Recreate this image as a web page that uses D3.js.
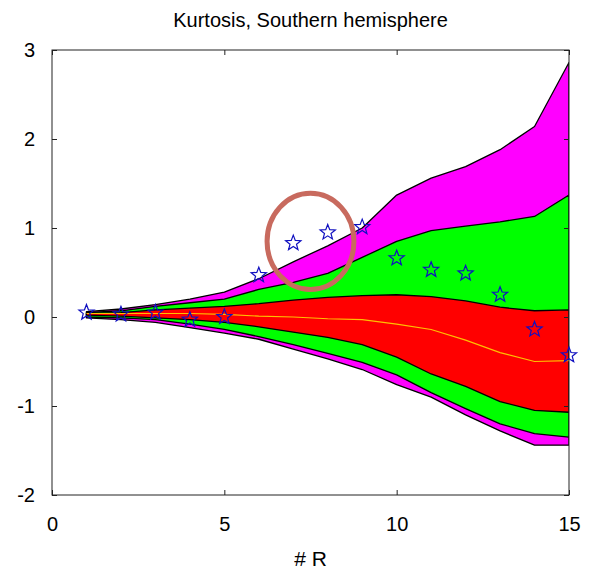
<!DOCTYPE html>
<html>
<head>
<meta charset="utf-8">
<script src="https://cdn.jsdelivr.net/npm/d3@7"></script>
<style>
  html, body { margin: 0; padding: 0; background: #fff; }
  svg { display: block; }
  text { font-family: "Liberation Sans", Arial, Helvetica, sans-serif; fill: #000; }
</style>
</head>
<body>
<svg id="chart" width="592" height="570"></svg>
<script>
// Number of R (x positions)
const rValues = [1, 2, 3, 4, 5, 6, 7, 8, 9, 10, 11, 12, 13, 14, 15];

// Outer envelope (magenta band)
const outerUpper = [0.06, 0.09, 0.14, 0.20, 0.28, 0.43, 0.62, 0.80, 1.00, 1.37, 1.56, 1.69, 1.88, 2.14, 2.86];
const outerLower = [-0.01, -0.03, -0.06, -0.12, -0.18, -0.25, -0.36, -0.47, -0.59, -0.76, -0.90, -1.10, -1.28, -1.44, -1.44];

// Middle envelope (green band)
const middleUpper = [0.05, 0.07, 0.12, 0.16, 0.20, 0.31, 0.39, 0.49, 0.67, 0.85, 0.97, 1.02, 1.07, 1.13, 1.37];
const middleLower = [0.00, -0.01, -0.03, -0.08, -0.14, -0.22, -0.31, -0.41, -0.51, -0.65, -0.85, -1.03, -1.20, -1.31, -1.35];

// Inner envelope (red band)
const innerUpper = [0.04, 0.05, 0.08, 0.10, 0.12, 0.15, 0.19, 0.22, 0.24, 0.25, 0.23, 0.18, 0.11, 0.07, 0.08];
const innerLower = [0.02, 0.01, -0.01, -0.03, -0.06, -0.11, -0.17, -0.23, -0.31, -0.45, -0.64, -0.78, -0.95, -1.05, -1.07];

// Median curve
const median = [0.04, 0.04, 0.04, 0.04, 0.03, 0.01, 0.00, -0.02, -0.03, -0.08, -0.14, -0.26, -0.40, -0.50, -0.49];

// Observed kurtosis
const observed = [0.05, 0.03, 0.05, -0.03, 0.00, 0.47, 0.83, 0.95, 1.01, 0.66, 0.53, 0.49, 0.25, -0.14, -0.43];

// Highlight ellipse (data units)
const highlightCenter = [7.5, 0.85];
const highlightRadius = [1.26, 0.54];

const xTicks = [0, 5, 10, 15];
const yTicks = [-2, -1, 0, 1, 2, 3];

const svg = d3.select("#chart");
const plot = { left: 52, right: 569, top: 50, bottom: 495 };

const x = d3.scaleLinear().domain([0, 15]).range([plot.left, plot.right]);
const y = d3.scaleLinear().domain([-2, 3]).range([plot.bottom, plot.top]);

svg.append("defs").append("clipPath").attr("id", "plotClip")
  .append("rect")
  .attr("x", plot.left).attr("y", plot.top)
  .attr("width", plot.right - plot.left).attr("height", plot.bottom - plot.top);

const g = svg.append("g").attr("clip-path", "url(#plotClip)");

function band(upper, lower, color) {
  const data = rValues.map((r, i) => ({ r, hi: upper[i], lo: lower[i] }));
  const area = d3.area().x(d => x(d.r)).y0(d => y(d.lo)).y1(d => y(d.hi));
  g.append("path").datum(data)
    .attr("d", area)
    .attr("fill", color)
    .attr("stroke", "#000")
    .attr("stroke-width", 1.3)
    .attr("stroke-linejoin", "round");
}

band(outerUpper, outerLower, "#ff00ff");
band(middleUpper, middleLower, "#00ff00");
band(innerUpper, innerLower, "#ff0000");

// median line
g.append("path")
  .datum(rValues.map((r, i) => [r, median[i]]))
  .attr("d", d3.line().x(d => x(d[0])).y(d => y(d[1])))
  .attr("fill", "none")
  .attr("stroke", "#ffc000")
  .attr("stroke-width", 1.1);

// axes box with inward ticks on all sides
const tickLen = 5;
const axisColor = "#222";
const axes = svg.append("g");

axes.append("rect")
  .attr("x", plot.left).attr("y", plot.top)
  .attr("width", plot.right - plot.left).attr("height", plot.bottom - plot.top)
  .attr("fill", "none").attr("stroke", axisColor).attr("stroke-width", 1);

const fmt = d => String(d);
const bottomAxis = d3.axisBottom(x).tickValues(xTicks).tickSize(-tickLen).tickPadding(22).tickFormat(fmt);
const topAxis = d3.axisTop(x).tickValues(xTicks).tickSize(-tickLen).tickFormat("");
const leftAxis = d3.axisLeft(y).tickValues(yTicks).tickSize(-tickLen).tickPadding(17).tickFormat(fmt);
const rightAxis = d3.axisRight(y).tickValues(yTicks).tickSize(-tickLen).tickFormat("");

function styleAxis(sel) {
  sel.select(".domain").remove();
  sel.selectAll(".tick line").attr("stroke", axisColor);
  sel.selectAll(".tick text")
    .attr("font-family", "'Liberation Sans', Arial, sans-serif")
    .attr("font-size", 20)
    .attr("fill", "#000");
}

axes.append("g").attr("transform", `translate(0,${plot.bottom})`).call(bottomAxis).call(styleAxis);
axes.append("g").attr("transform", `translate(0,${plot.top})`).call(topAxis).call(styleAxis);
axes.append("g").attr("transform", `translate(${plot.left},0)`).call(leftAxis).call(styleAxis);
axes.append("g").attr("transform", `translate(${plot.right},0)`).call(rightAxis).call(styleAxis);

// observed values as open stars
function starPath(cx, cy, outer, inner) {
  const pts = [];
  for (let k = 0; k < 10; k++) {
    const a = -Math.PI / 2 + k * Math.PI / 5;
    const r = k % 2 === 0 ? outer : inner;
    pts.push([cx + r * Math.cos(a), cy + r * Math.sin(a)]);
  }
  return "M" + pts.map(p => p[0].toFixed(2) + "," + p[1].toFixed(2)).join("L") + "Z";
}

svg.append("g").selectAll("path")
  .data(rValues.map((r, i) => [r, observed[i]]))
  .join("path")
  .attr("d", d => starPath(x(d[0]), y(d[1]), 8, 3.4))
  .attr("fill", "none")
  .attr("stroke", "#1010c0")
  .attr("stroke-width", 1.2);

// highlight ellipse
svg.append("ellipse")
  .attr("cx", x(highlightCenter[0]))
  .attr("cy", y(highlightCenter[1]))
  .attr("rx", x(highlightCenter[0] + highlightRadius[0]) - x(highlightCenter[0]))
  .attr("ry", y(highlightCenter[1]) - y(highlightCenter[1] + highlightRadius[1]))
  .attr("fill", "none")
  .attr("stroke", "#c86a5e")
  .attr("stroke-width", 5);

// title and axis label
svg.append("text")
  .attr("x", (plot.left + plot.right) / 2)
  .attr("y", 27)
  .attr("text-anchor", "middle")
  .attr("font-size", 20)
  .text("Kurtosis, Southern hemisphere");

svg.append("text")
  .attr("x", (plot.left + plot.right) / 2)
  .attr("y", 566)
  .attr("text-anchor", "middle")
  .attr("font-size", 21)
  .text("# R");
</script>
</body>
</html>
